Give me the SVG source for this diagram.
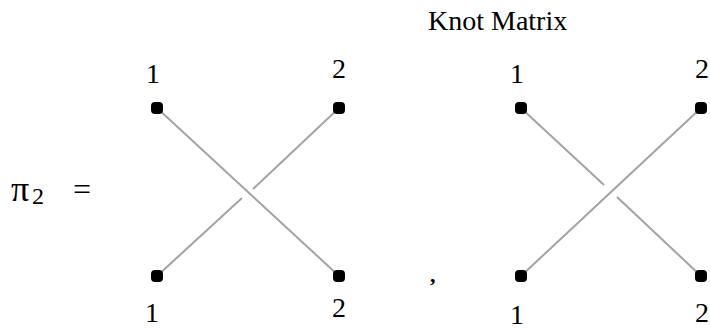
<svg xmlns="http://www.w3.org/2000/svg" width="710" height="329" viewBox="0 0 710 329">
  <style>
    .strand { stroke: #a3a3a3; stroke-width: 2; fill: none; }
    .dot { fill: #000; }
    .num { font-family: "Liberation Serif", serif; font-size: 28px; fill: #000; }
    .title { font-family: "Liberation Serif", serif; font-size: 28px; fill: #000; }
    .sym { font-family: "Liberation Serif", serif; fill: #000; }
  </style>
  <rect width="710" height="329" fill="#fff"/>

  <!-- label and equals sign -->
  <g id="label">
    <text class="sym" x="11" y="201" font-size="36">π</text>
    <text class="sym" x="32" y="204" font-size="24">2</text>
    <text class="sym" x="73" y="200" font-size="32">=</text>
  </g>

  <text id="title" class="title" x="428" y="30">Knot Matrix</text>

  <!-- strands of both crossings -->
  <g id="connectors">
    <line class="strand" x1="157" y1="108" x2="339" y2="276"/>
    <line class="strand" x1="339" y1="108" x2="253" y2="189"/>
    <line class="strand" x1="242" y1="198" x2="157" y2="276"/>

    <line class="strand" x1="701" y1="108" x2="521" y2="276"/>
    <line class="strand" x1="521" y1="108" x2="604" y2="185"/>
    <line class="strand" x1="617" y1="197" x2="701" y2="276"/>
  </g>

  <!-- left crossing endpoints -->
  <g id="left-crossing">
    <g id="l-tl"><rect class="dot" x="151" y="102" width="12" height="12" rx="4"/><text class="num" x="146" y="83">1</text></g>
    <g id="l-tr"><rect class="dot" x="333" y="102" width="12" height="12" rx="4"/><text class="num" x="332" y="78">2</text></g>
    <g id="l-bl"><rect class="dot" x="151" y="270" width="12" height="12" rx="4"/><text class="num" x="145" y="322">1</text></g>
    <g id="l-br"><rect class="dot" x="333" y="270" width="12" height="12" rx="4"/><text class="num" x="332" y="317">2</text></g>
  </g>

  <text id="comma" class="sym" x="430" y="282" font-size="22" font-weight="bold">,</text>

  <!-- right crossing endpoints -->
  <g id="right-crossing">
    <g id="r-tl"><rect class="dot" x="515" y="102" width="12" height="12" rx="4"/><text class="num" x="510" y="83">1</text></g>
    <g id="r-tr"><rect class="dot" x="695" y="102" width="12" height="12" rx="4"/><text class="num" x="695" y="78">2</text></g>
    <g id="r-bl"><rect class="dot" x="515" y="270" width="12" height="12" rx="4"/><text class="num" x="510" y="324">1</text></g>
    <g id="r-br"><rect class="dot" x="695" y="270" width="12" height="12" rx="4"/><text class="num" x="695" y="322">2</text></g>
  </g>
</svg>
